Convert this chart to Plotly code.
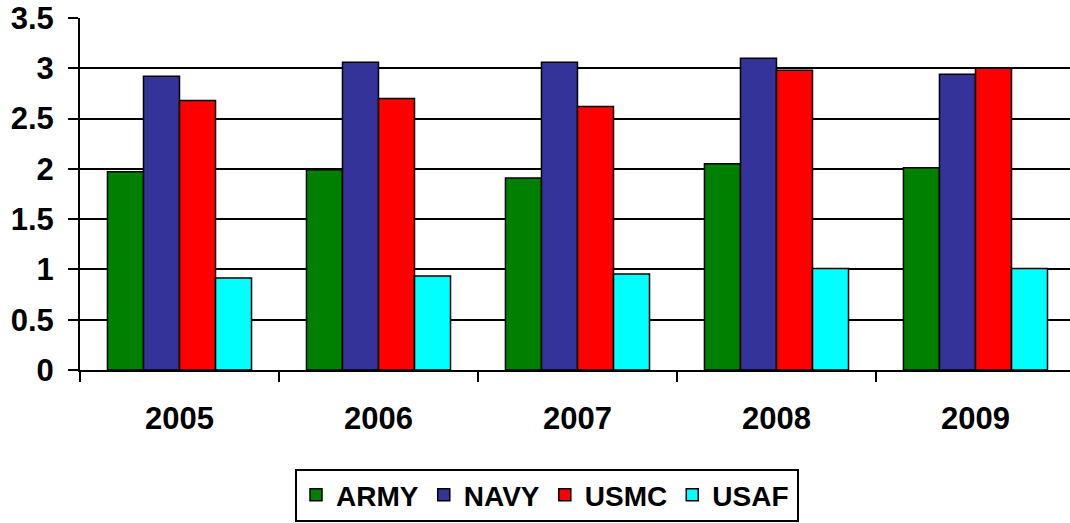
import plotly.graph_objects as go

years = ["2005", "2006", "2007", "2008", "2009"]
army = [1.97, 1.99, 1.91, 2.05, 2.01]
navy = [2.92, 3.06, 3.06, 3.10, 2.94]
usmc = [2.68, 2.70, 2.62, 2.98, 3.00]
usaf = [0.915, 0.935, 0.955, 1.01, 1.01]
y_ticks = [0, 0.5, 1, 1.5, 2, 2.5, 3, 3.5]
y_tick_labels = ["0", "0.5", "1", "1.5", "2", "2.5", "3", "3.5"]

series = [("ARMY", army, "#008000"), ("NAVY", navy, "#333399"),
          ("USMC", usmc, "#FF0000"), ("USAF", usaf, "#00FFFF")]

FONT = "Arial, Liberation Sans, sans-serif"

W, H = 1070, 523
L, T, B = 80, 18, 153
PW = W - L
PH = H - T - B

def px_x(x):
    return (x - L) / PW

def px_y(y):
    return (H - B - y) / PH

fig = go.Figure()
for name, vals, col in series:
    fig.add_trace(go.Bar(x=years, y=vals, name=name,
                         marker=dict(color=col, line=dict(color="black", width=1.5))))

fig.update_layout(
    width=W, height=H,
    margin=dict(l=L, r=0, t=T, b=B, autoexpand=False),
    paper_bgcolor="white", plot_bgcolor="white",
    barmode="group", bargap=0.276, bargroupgap=0,
    font=dict(family=FONT, color="black"),
    showlegend=True,
    legend=dict(orientation="h", x=px_x(545), xanchor="center",
                yref="container", y=1 - 495 / H, yanchor="middle",
                borderwidth=0, bgcolor="rgba(0,0,0,0)",
                font=dict(size=28, family=FONT, weight="bold"),
                itemclick=False, traceorder="normal"),
    shapes=[dict(type="rect", xref="paper", yref="paper",
                 x0=px_x(296), x1=px_x(798), y0=px_y(470), y1=px_y(521),
                 line=dict(color="black", width=2), fillcolor="rgba(0,0,0,0)",
                 layer="below")],
)
fig.update_xaxes(range=[-0.5, 4.475], showline=True, linecolor="black", linewidth=2,
                 ticks="outside", tickson="boundaries", ticklen=10, tickwidth=1.5,
                 tickcolor="black", showgrid=False, automargin=False,
                 tickfont=dict(size=31, family=FONT, weight="bold"),
                 ticklabelstandoff=20)
fig.update_yaxes(range=[0, 3.5], tickvals=y_ticks, ticktext=y_tick_labels,
                 showline=True, linecolor="black", linewidth=2,
                 ticks="outside", ticklen=10, tickwidth=1.5, tickcolor="black",
                 showgrid=True, gridcolor="black", gridwidth=1.5, zeroline=False,
                 automargin=False,
                 tickfont=dict(size=31, family=FONT, weight="bold"),
                 ticklabelstandoff=8, ticklabeloverflow="allow")

fig.write_html("out.html",
               config={"displayModeBar": False},
               post_script="document.body.style.margin='0';document.body.style.overflow='hidden';")
